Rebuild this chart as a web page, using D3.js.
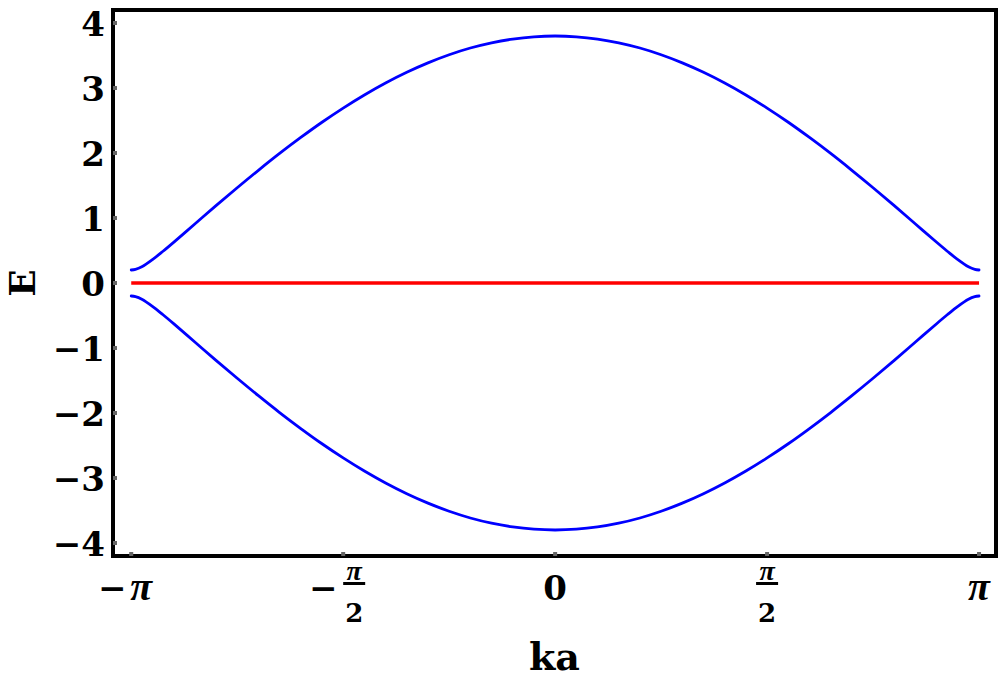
<!DOCTYPE html>
<html>
<head>
<meta charset="utf-8">
<script src="https://cdn.jsdelivr.net/npm/d3@7/dist/d3.min.js"></script>
<style>
  html, body { margin: 0; padding: 0; background: #ffffff; }
  svg { display: block; }
  text { font-family: "DejaVu Serif", "Liberation Serif", serif; font-weight: bold; fill: #000; }
  text.pi { font-family: "Liberation Serif", serif; font-style: italic; font-weight: bold; }
</style>
</head>
<body>
<svg id="chart" width="1000" height="682"></svg>
<script>
// ---- data (k in units of pi, energies) ----
const kOverPi = [-1, -0.99, -0.975, -0.95, -0.925, -0.9, -0.85, -0.8, -0.75, -0.7, -0.65, -0.6, -0.55, -0.5,
  -0.45, -0.4, -0.35, -0.3, -0.25, -0.2, -0.15, -0.1, -0.05, 0,
  0.05, 0.1, 0.15, 0.2, 0.25, 0.3, 0.35, 0.4, 0.45, 0.5, 0.55, 0.6, 0.65, 0.7, 0.75, 0.8, 0.85, 0.9,
  0.925, 0.95, 0.975, 0.99, 1];
const upperBand = [0.20, 0.209, 0.249, 0.359, 0.489, 0.626, 0.908, 1.190, 1.466, 1.734, 1.993, 2.239, 2.473, 2.691,
  2.893, 3.077, 3.242, 3.387, 3.512, 3.615, 3.695, 3.753, 3.788, 3.800,
  3.788, 3.753, 3.695, 3.615, 3.512, 3.387, 3.242, 3.077, 2.893, 2.691, 2.473, 2.239, 1.993, 1.734, 1.466, 1.190, 0.908, 0.626,
  0.489, 0.359, 0.249, 0.209, 0.20];
const lowerBand = [-0.20, -0.209, -0.249, -0.359, -0.489, -0.626, -0.908, -1.190, -1.466, -1.734, -1.993, -2.239, -2.473, -2.691,
  -2.893, -3.077, -3.242, -3.387, -3.512, -3.615, -3.695, -3.753, -3.788, -3.800,
  -3.788, -3.753, -3.695, -3.615, -3.512, -3.387, -3.242, -3.077, -2.893, -2.691, -2.473, -2.239, -1.993, -1.734, -1.466, -1.190, -0.908, -0.626,
  -0.489, -0.359, -0.249, -0.209, -0.20];
const flatBandK = [-1, 1];
const flatBand = [0, 0];

const yTicks = [-4, -3, -2, -1, 0, 1, 2, 3, 4];
const xTicksOverPi = [-1, -0.5, 0, 0.5, 1];
const xTickLabels = [
  {sign: "−", num: "π", den: null},
  {sign: "−", num: "π", den: "2"},
  {sign: "", num: "0", den: null},
  {sign: "", num: "π", den: "2"},
  {sign: "", num: "π", den: null}
];
const xLabel = "ka";
const yLabel = "E";

// ---- layout ----
const frame = {left: 113, top: 10, right: 996, bottom: 556};
const svg = d3.select("#chart");

const x = d3.scaleLinear().domain([-1.043 * Math.PI, 1.040 * Math.PI]).range([frame.left, frame.right]);
const y = d3.scaleLinear().domain([-4.2, 4.2]).range([frame.bottom, frame.top]);

const line = d3.line()
  .x(d => x(d[0] * Math.PI))
  .y(d => y(d[1]))
  .curve(d3.curveCatmullRom.alpha(0.5));

const plot = svg.append("g");
plot.append("path")
  .datum(d3.zip(flatBandK, flatBand))
  .attr("d", d3.line().x(d => x(d[0] * Math.PI)).y(d => y(d[1])))
  .attr("fill", "none").attr("stroke", "#ff0000").attr("stroke-width", 3.5);
[upperBand, lowerBand].forEach(band => {
  plot.append("path")
    .datum(d3.zip(kOverPi, band))
    .attr("d", line)
    .attr("fill", "none").attr("stroke", "#0000ff").attr("stroke-width", 2.8)
    .attr("stroke-linecap", "round");
});

// frame
svg.append("rect")
  .attr("x", frame.left).attr("y", frame.top)
  .attr("width", frame.right - frame.left).attr("height", frame.bottom - frame.top)
  .attr("fill", "none").attr("stroke", "#000").attr("stroke-width", 4);

// ticks
const tickG = svg.append("g");
yTicks.forEach(v => {
  tickG.append("rect").attr("x", frame.left).attr("y", y(v) - 2)
    .attr("width", 4).attr("height", 4).attr("fill", "#666");
});
xTicksOverPi.forEach(v => {
  tickG.append("rect").attr("x", x(v * Math.PI) - 2).attr("y", frame.bottom - 4)
    .attr("width", 4).attr("height", 4).attr("fill", "#666");
});

// y tick labels
const yLab = svg.append("g");
yTicks.forEach(v => {
  yLab.append("text")
    .attr("x", frame.left - 8).attr("y", y(v) + 13)
    .attr("text-anchor", "end").attr("font-size", 34)
    .text(v < 0 ? "−" + Math.abs(v) : String(v));
});

// x tick labels
xTicksOverPi.forEach((v, i) => {
  const spec = xTickLabels[i];
  const g = svg.append("g").attr("transform", `translate(${x(v * Math.PI)},0)`);
  if (spec.den === null) {
    if (spec.num === "π") {
      const piCx = spec.sign ? 10 : 0;
      g.append("text").attr("class", "pi").attr("x", piCx).attr("y", 600)
        .attr("text-anchor", "middle").attr("font-size", 40).text(spec.num);
      if (spec.sign) {
        g.append("text").attr("x", -19).attr("y", 600).attr("text-anchor", "middle")
          .attr("font-size", 34).text(spec.sign);
      }
    } else {
      g.append("text").attr("y", 600).attr("text-anchor", "middle").attr("font-size", 34).text(spec.num);
    }
  } else {
    const fracCx = spec.sign ? 11 : 0;
    if (spec.sign) {
      g.append("text").attr("x", -20).attr("y", 600).attr("text-anchor", "middle")
        .attr("font-size", 34).text(spec.sign);
    }
    g.append("text").attr("class", "pi").attr("x", fracCx).attr("y", 580).attr("text-anchor", "middle")
      .attr("font-size", 28).text(spec.num);
    g.append("rect").attr("x", fracCx - 11).attr("y", 582).attr("width", 22).attr("height", 3).attr("fill", "#000");
    g.append("text").attr("x", fracCx).attr("y", 622).attr("text-anchor", "middle")
      .attr("font-size", 26).text(spec.den);
  }
});

// axis labels
svg.append("text").attr("x", (frame.left + frame.right) / 2).attr("y", 670)
  .attr("text-anchor", "middle").attr("font-size", 38).text(xLabel);
svg.append("text").attr("transform", `translate(35,${y(0)}) rotate(-90)`)
  .attr("text-anchor", "middle").attr("font-size", 36).text(yLabel);
</script>
</body>
</html>
